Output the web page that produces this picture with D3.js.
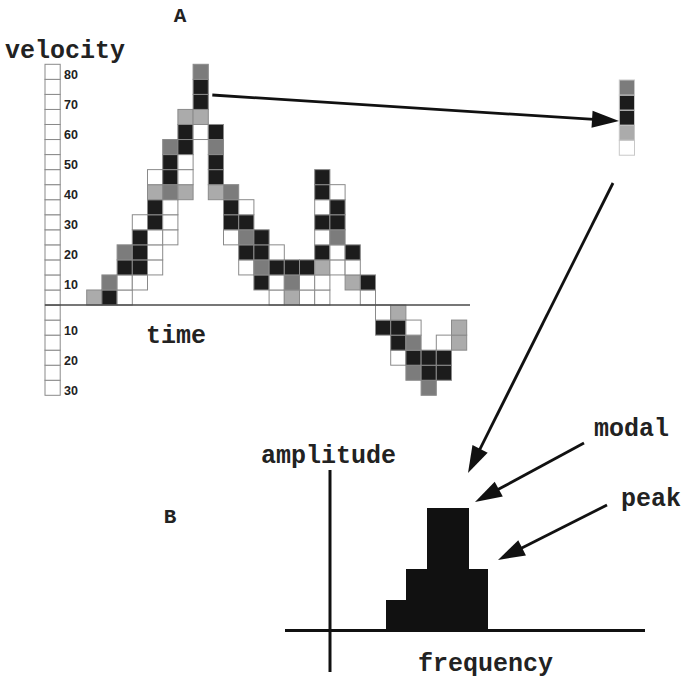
<!DOCTYPE html>
<html>
<head>
<meta charset="utf-8">
<script src="https://cdn.jsdelivr.net/npm/d3@7"></script>
<style>
  body { margin: 0; background: #fff; }
  svg { display: block; }
</style>
</head>
<body>
<div class="svg-container"></div>
<script>
// velocity bins are 5 units wide; every time column lists its cells upward from lowBin
// shade: 0 = white, 1 = light grey, 2 = mid grey, 3 = black
const lowBin = [0, 0, 0, 1, 2, 4, 7, 11, 7, 4, 2, 1, 0, 0, 0, 0, 2, 1, 0, -2, -4, -5, -6, -5, -3];
const shades = [
  [1], [3, 2], [0, 0, 3, 2], [0, 3, 3, 3, 0], [0, 0, 0, 3, 3, 1, 0],
  [0, 0, 0, 2, 3, 3, 2], [1, 0, 0, 3, 3, 1], [0, 1, 3, 3, 2], [1, 3, 3, 2, 3], [0, 3, 3, 2],
  [0, 3, 2, 3, 0], [3, 2, 3, 3], [0, 0, 3, 0], [1, 2, 3], [0, 0, 3],
  [0, 0, 1, 3, 0, 3, 0, 3, 3], [0, 0, 2, 3, 3, 0], [1, 0, 3], [0, 3], [3, 0],
  [0, 3, 3, 1], [2, 3, 2, 0], [2, 3, 3], [3, 3, 0], [1, 1]
];
const velocityTicks = [80, 70, 60, 50, 40, 30, 20, 10, -10, -20, -30];
const modalColumn = 7;
// spectrum of the modal column, one bar per velocity bin
const amplitude = [1, 2, 4, 4, 2];

const shadeColor = ["#ffffff", "#ababab", "#7c7c7c", "#1c1c1c"];
const mono = "'Liberation Mono', 'Courier New', monospace";

const svg = d3.select("div.svg-container")
  .append("svg")
  .attr("width", 682)
  .attr("height", 682)
  .style("background-color", "#fff");

const x = d3.scaleBand(d3.range(lowBin.length), [86.7, 466.7]);
const y = d3.scaleLinear().domain([-30, 80]).range([395.3, 64.3]);

const cells = lowBin.flatMap((b, t) =>
  shades[t].map((s, k) => ({ t, bin: b + k, shade: s }))
);

// velocity scale column
const scaleBins = d3.range(y.domain()[0] / 5, y.domain()[1] / 5);
svg.append("g")
  .attr("fill", "#fff")
  .attr("stroke", "#8a8a8a")
  .attr("stroke-width", 1)
  .selectAll("rect")
  .data(scaleBins)
  .join("rect")
  .attr("x", 45)
  .attr("width", x.bandwidth())
  .attr("y", (b) => y(5 * (b + 1)))
  .attr("height", (b) => y(5 * b) - y(5 * (b + 1)));

svg.append("g")
  .attr("font-family", "'Liberation Sans', Arial, sans-serif")
  .attr("font-weight", "bold")
  .attr("font-size", 12.5)
  .attr("fill", "#222")
  .selectAll("text")
  .data(velocityTicks)
  .join("text")
  .attr("x", 64)
  .attr("y", (v) => (v > 0 ? y(v - 5) : y(v)) - 0.5)
  .text((v) => Math.abs(v));

// time / velocity cells
svg.append("g")
  .attr("stroke", "#8a8a8a")
  .attr("stroke-width", 1)
  .selectAll("rect")
  .data(cells)
  .join("rect")
  .attr("x", (d) => x(d.t))
  .attr("width", x.bandwidth())
  .attr("y", (d) => y(5 * (d.bin + 1)))
  .attr("height", (d) => y(5 * d.bin) - y(5 * (d.bin + 1)))
  .attr("fill", (d) => shadeColor[d.shade]);

svg.append("line")
  .attr("x1", 45)
  .attr("x2", 470)
  .attr("y1", y(0))
  .attr("y2", y(0))
  .attr("stroke", "#4a4a4a")
  .attr("stroke-width", 1.6);

// copy of the modal column at the top right
svg.append("g")
  .attr("transform", `translate(${619.3 - x(modalColumn)},15.7)`)
  .attr("stroke", "#c8c8c8")
  .attr("stroke-width", 1)
  .selectAll("rect")
  .data(cells.filter((d) => d.t === modalColumn))
  .join("rect")
  .attr("x", (d) => x(d.t))
  .attr("width", x.bandwidth())
  .attr("y", (d) => y(5 * (d.bin + 1)))
  .attr("height", (d) => y(5 * d.bin) - y(5 * (d.bin + 1)))
  .attr("fill", (d) => shadeColor[d.shade]);

// panel B: amplitude spectrum
const fx = d3.scaleBand(d3.range(amplitude.length), [386, 488]);
const fy = d3.scaleLinear().domain([0, 4]).range([630.5, 508.3]);

svg.append("g")
  .attr("fill", "#111")
  .attr("shape-rendering", "crispEdges")
  .selectAll("rect")
  .data(amplitude)
  .join("rect")
  .attr("x", (d, i) => fx(i))
  .attr("width", (d, i) => fx.bandwidth() + (i < amplitude.length - 1 ? 1.5 : 0))
  .attr("y", (d) => fy(d))
  .attr("height", (d) => fy(0) - fy(d));

svg.append("g")
  .attr("stroke", "#111")
  .attr("stroke-width", 3)
  .call((g) => g.append("line").attr("x1", 285).attr("x2", 645).attr("y1", fy(0)).attr("y2", fy(0)))
  .call((g) => g.append("line").attr("x1", 330).attr("x2", 330).attr("y1", 470).attr("y2", 672));

// arrows
const arrows = [
  { from: [x(modalColumn) + x.bandwidth() + 4, 95], to: [619, 121] },
  { from: [613, 183], to: [468, 473] },
  { from: [584, 443], to: [475, 502] },
  { from: [607, 505], to: [498, 560] }
];

function arrow(g, d) {
  const [x1, y1] = d.from;
  const [x2, y2] = d.to;
  const len = Math.hypot(x2 - x1, y2 - y1);
  const ux = (x2 - x1) / len, uy = (y2 - y1) / len;
  const head = 27, half = 8.5;
  const bx = x2 - ux * head, by = y2 - uy * head;
  g.append("line")
    .attr("x1", x1).attr("y1", y1)
    .attr("x2", bx + ux * 2).attr("y2", by + uy * 2)
    .attr("stroke", "#111")
    .attr("stroke-width", 2.8);
  g.append("path")
    .attr("fill", "#111")
    .attr("d", `M${x2},${y2}L${bx - uy * half},${by + ux * half}L${bx + uy * half},${by - ux * half}Z`);
}
svg.append("g").selectAll("g").data(arrows).join("g").each(function (d) { arrow(d3.select(this), d); });

// labels
const labels = svg.append("g")
  .attr("font-family", mono)
  .attr("font-weight", "bold")
  .attr("font-size", 25)
  .attr("fill", "#222");
labels.append("text").attr("x", 180).attr("y", 22).attr("text-anchor", "middle").attr("font-size", 21).text("A");
labels.append("text").attr("x", 170).attr("y", 523).attr("text-anchor", "middle").attr("font-size", 21).text("B");
labels.append("text").attr("x", 5).attr("y", 58).text("velocity");
labels.append("text").attr("x", 146).attr("y", 343).text("time");
labels.append("text").attr("x", 261).attr("y", 463).text("amplitude");
labels.append("text").attr("x", 594).attr("y", 436).text("modal");
labels.append("text").attr("x", 621).attr("y", 506).text("peak");
labels.append("text").attr("x", 418).attr("y", 671).text("frequency");
</script>
</body>
</html>
